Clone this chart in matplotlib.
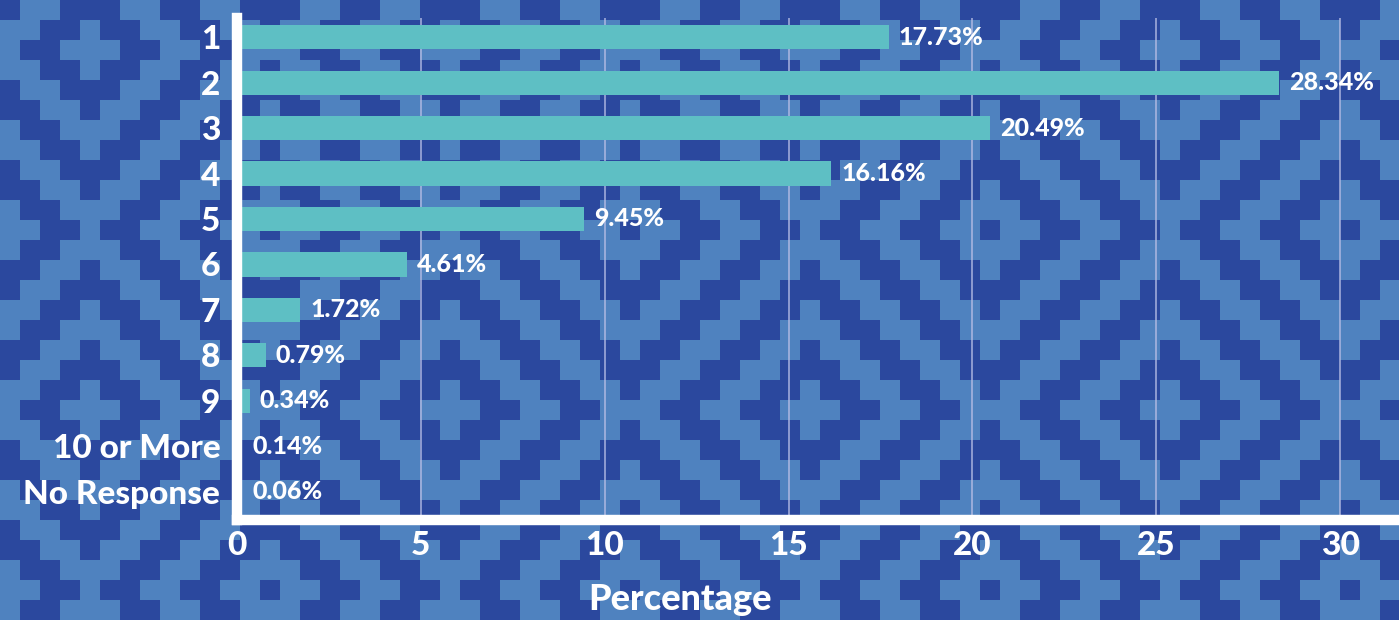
import numpy as np
import matplotlib
matplotlib.use("Agg")
import matplotlib.pyplot as plt
from matplotlib.colors import ListedColormap

categories = ["1", "2", "3", "4", "5", "6", "7", "8", "9", "10 or More", "No Response"]
percentages = [17.73, 28.34, 20.49, 16.16, 9.45, 4.61, 1.72, 0.79, 0.34, 0.14, 0.06]
x_ticks = [0, 5, 10, 15, 20, 25, 30]

DARK = "#2b489e"
LIGHT = "#4f82bf"
TEAL = "#5ebfc4"

plt.rcParams['font.family'] = ['Lato', 'DejaVu Sans']
plt.rcParams['font.weight'] = 'black'

fig = plt.figure(figsize=(13.99, 6.2), dpi=100)

# decorative stepped-diamond backdrop
bg = fig.add_axes([0, 0, 1, 1], zorder=-10)
cell = 20
nx, ny = 1399 // cell + 2, 620 // cell + 2
ii, jj = np.meshgrid(np.arange(nx), np.arange(ny))
period = 18
u = np.abs(((ii + 5) % period) - period // 2)
v = np.abs(((jj + 7) % period) - period // 2)
d = u + v
pattern = ((d // 2) % 2 == 0).astype(int)
cross = ((u == 0) & (v <= 1)) | ((v == 0) & (u <= 1))
pattern[cross] = 1
bg.imshow(pattern, cmap=ListedColormap([DARK, LIGHT]), aspect='auto',
          interpolation='nearest', extent=[0, nx * cell, ny * cell, 0])
bg.set_xlim(0, 1399)
bg.set_ylim(620, 0)
bg.axis('off')

ax = fig.add_axes([237 / 1399, 1 - 520 / 620, 1 - 237 / 1399, (520 - 18) / 620])
ax.patch.set_alpha(0)

y = np.arange(len(categories))
ax.barh(y, percentages, height=0.53, color=TEAL, zorder=3)

for yi, val in zip(y, percentages):
    ax.text(max(val, 0.15) + 0.27, yi, f"{val:.2f}%", va='center', ha='left',
            color='white', fontsize=18, fontweight='black', zorder=4)

ax.set_xlim(0, 31.6)
ax.set_ylim(10.62, -0.42)
ax.set_yticks(y)
ax.set_yticklabels(categories)
ax.set_xticks(x_ticks)

for x in x_ticks[1:]:
    ax.axvline(x, color='#b9bfe6', alpha=0.7, linewidth=1.4, zorder=1)

for side in ['top', 'right']:
    ax.spines[side].set_visible(False)
for side in ['left', 'bottom']:
    ax.spines[side].set_color('white')
    ax.spines[side].set_linewidth(7.5)
    ax.spines[side].set_zorder(5)

ax.tick_params(axis='y', length=0, pad=12, labelsize=24, labelcolor='white')
ax.tick_params(axis='x', length=0, pad=8, labelsize=24, labelcolor='white')
for lbl in ax.get_xticklabels() + ax.get_yticklabels():
    lbl.set_fontweight('black')

ax.set_xlabel("Percentage", color='white', fontsize=26, fontweight='black')
ax.xaxis.set_label_coords((680 - 237) / (1399 - 237), -0.125)

fig.savefig("out.png", dpi=100)
